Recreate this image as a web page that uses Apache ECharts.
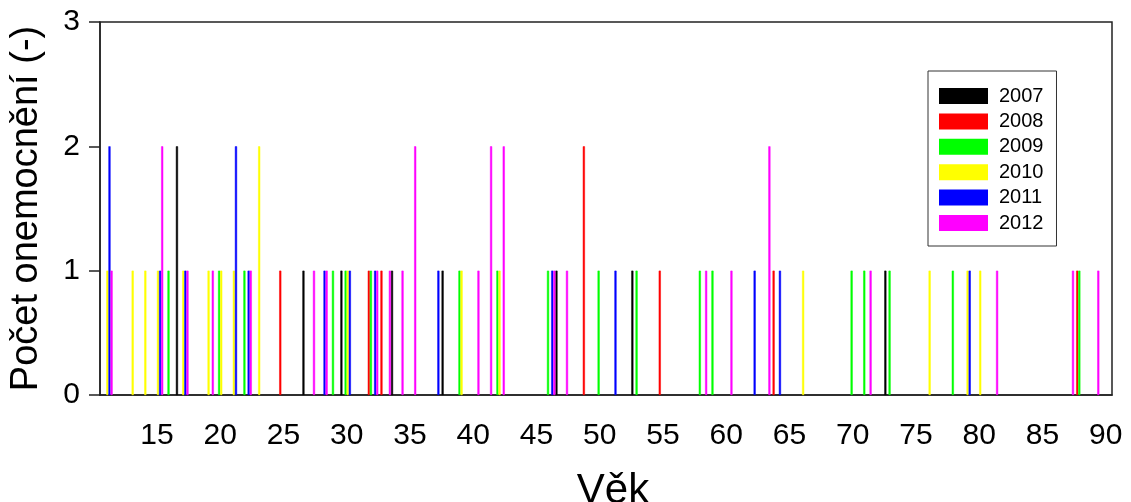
<!DOCTYPE html>
<html>
<head>
<meta charset="utf-8">
<script src="https://cdn.jsdelivr.net/npm/echarts@6/dist/echarts.min.js"></script>
<style>
html,body{margin:0;padding:0;background:#fff;}
#chart{width:1131px;height:502px;}
</style>
</head>
<body>
<div id="chart"></div>
<script>
// Categories (ages)
const ages = [];
for (let a = 11; a <= 90; a++) ages.push(String(a));

// Series names
const years = ['2007', '2008', '2009', '2010', '2011', '2012'];

// Per-year values: ages with cases and counts
const ages2007 = [17, 27, 30, 34, 38, 47, 53, 73];
const vals2007 = [2, 1, 1, 1, 1, 1, 1, 1];

const ages2008 = [25, 32, 33, 49, 55, 64, 88];
const vals2008 = [1, 1, 1, 2, 1, 1, 1];

const ages2009 = [16, 20, 22, 29, 30, 32, 39, 42, 46, 50, 53, 58, 59, 70, 71, 73, 78, 88];
const vals2009 = [1, 1, 1, 1, 1, 1, 1, 1, 1, 1, 1, 1, 1, 1, 1, 1, 1, 1];

const ages2010 = [11, 13, 14, 15, 17, 19, 20, 21, 23, 30, 39, 42, 66, 76, 79, 80];
const vals2010 = [1, 1, 1, 1, 1, 1, 1, 1, 2, 1, 1, 1, 1, 1, 1, 1];

const ages2011 = [11, 15, 17, 21, 22, 28, 30, 32, 37, 46, 51, 62, 64, 79];
const vals2011 = [2, 1, 1, 2, 1, 1, 1, 1, 1, 1, 1, 1, 1, 1];

const ages2012 = [11, 15, 17, 19, 22, 27, 28, 32, 33, 34, 35, 40, 41, 42, 46, 47, 58, 60, 63, 71, 81, 87, 89];
const vals2012 = [1, 2, 1, 1, 1, 1, 1, 1, 1, 1, 2, 1, 2, 2, 1, 1, 1, 1, 2, 1, 1, 1, 1];

const colors = ['#000000', '#ff0000', '#00ff00', '#ffff00', '#0000ff', '#ff00ff'];

const agesBy = [ages2007, ages2008, ages2009, ages2010, ages2011, ages2012];
const valsBy = [vals2007, vals2008, vals2009, vals2010, vals2011, vals2012];

const FONT = 'Liberation Sans, Arial, sans-serif';

const series = years.map((y, i) => ({
  name: y,
  type: 'bar',
  data: agesBy[i].map((a, k) => [String(a), valsBy[i][k]]),
  itemStyle: { color: colors[i], borderColor: colors[i], borderWidth: 0.5 },
  barGap: '0%',
  barCategoryGap: '0%',
  animation: false
}));

const chart = echarts.init(document.getElementById('chart'), null, { renderer: 'canvas' });
chart.setOption({
  animation: false,
  backgroundColor: '#fff',
  color: colors,
  grid: {
    left: 100, right: 19, top: 22, bottom: 107,
    containLabel: false,
    outerBoundsMode: 'none',
    show: true, borderColor: '#222', borderWidth: 1.5, backgroundColor: 'transparent'
  },
  legend: {
    orient: 'vertical',
    left: 928, top: 71,
    data: years,
    icon: 'rect',
    itemWidth: 47, itemHeight: 14, itemGap: 5.4,
    padding: [15, 13, 13, 11],
    borderColor: '#333', borderWidth: 1,
    textStyle: { fontFamily: FONT, fontSize: 20, lineHeight: 20, color: '#000', padding: [0, 0, 0, 7] }
  },
  xAxis: {
    type: 'category',
    data: ages,
    name: 'Věk',
    nameLocation: 'middle',
    nameGap: 75,
    nameTextStyle: { fontFamily: FONT, fontSize: 42, color: '#000', padding: [0, 0, 0, 14] },
    axisLine: { lineStyle: { color: '#222', width: 1.5 } },
    axisTick: {
      alignWithLabel: true, length: 9, inside: false,
      interval: (idx, val) => Number(val) % 5 === 0,
      lineStyle: { color: '#222', width: 1.5 }
    },
    axisLabel: {
      interval: (idx, val) => Number(val) % 5 === 0,
      fontFamily: FONT, fontSize: 30, color: '#000', margin: 26
    },
    splitLine: { show: false }
  },
  yAxis: {
    type: 'value',
    min: 0, max: 3, interval: 1,
    name: 'Počet onemocnění (-)',
    nameLocation: 'middle',
    nameGap: 54,
    nameTextStyle: { fontFamily: FONT, fontSize: 38, color: '#000' },
    axisLine: { show: true, lineStyle: { color: '#222', width: 1.5 } },
    axisTick: { show: true, length: 11, lineStyle: { color: '#222', width: 1.5 } },
    axisLabel: { fontFamily: FONT, fontSize: 30, color: '#000', margin: 20 },
    splitLine: { show: false }
  },
  series: series
});
</script>
</body>
</html>
